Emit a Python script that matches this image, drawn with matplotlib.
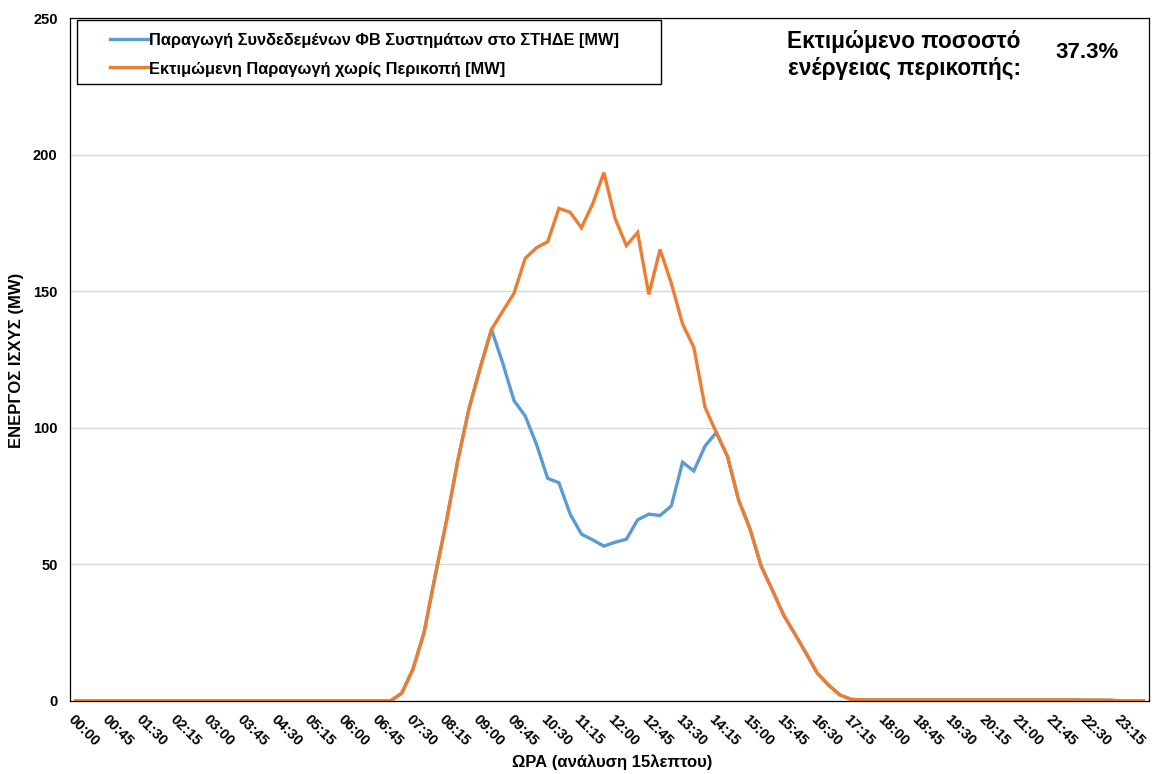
import matplotlib
matplotlib.use("Agg")
import matplotlib.pyplot as plt
from matplotlib.patches import Rectangle

plt.rcParams["font.family"] = ["Liberation Sans", "DejaVu Sans"]
plt.rcParams["font.weight"] = "bold"

# 15-minute slots, 00:00 .. 23:45
TIMES = [f"{h:02d}:{m:02d}" for h in range(24) for m in (0, 15, 30, 45)]

# estimated production without curtailment [MW]
ESTIMATED = (
    [0.0] * 29
    + [2.8, 11.5, 25.0, 46.0, 66.0, 88.0, 107.0, 122.0, 136.0,
       142.7, 149.2, 162.0, 165.9, 168.1, 180.3, 178.9, 173.2, 181.9, 193.4,
       176.6, 166.7, 171.5, 148.8, 165.3, 152.9, 138.0, 129.5, 107.5, 98.3,
       89.5, 73.4, 63.0, 49.3, 40.5, 31.4, 24.5, 17.4, 10.1, 5.8, 2.2, 0.6]
    + [0.4] * 20
    + [0.3, 0.3, 0.3, 0.0, 0.0, 0.0]
)

# actual production of connected PV systems [MW]
ACTUAL = (
    [0.0] * 29
    + [2.8, 11.5, 25.0, 46.0, 66.0, 88.0, 107.0, 122.0, 136.0,
       123.7, 110.0, 104.3, 94.0, 81.5, 79.9, 68.4, 61.1, 59.0, 56.7,
       58.1, 59.2, 66.3, 68.4, 67.9, 71.4, 87.4, 84.2, 93.3, 98.3,
       89.5, 73.4, 63.0, 49.3, 40.5, 31.4, 24.5, 17.4, 10.1, 5.8, 2.2, 0.6]
    + [0.4] * 20
    + [0.3, 0.3, 0.3, 0.0, 0.0, 0.0]
)

LABEL_ACTUAL = "Παραγωγή Συνδεδεμένων ΦΒ Συστημάτων στο ΣΤΗΔΕ [MW]"
LABEL_ESTIMATED = "Εκτιμώμενη Παραγωγή χωρίς Περικοπή [MW]"
CURTAIL_PCT = "37.3%"

BLUE = "#5B9BD5"
ORANGE = "#ED7D31"

W, H = 1152, 774
fig = plt.figure(figsize=(W / 100, H / 100), dpi=100)
ax = fig.add_axes([70 / W, 1 - 701 / H, 1079 / W, 683 / H])

x = list(range(len(TIMES)))
ax.plot(x, ACTUAL, color=BLUE, lw=2.4, label=LABEL_ACTUAL, solid_joinstyle="miter")
ax.plot(x, ESTIMATED, color=ORANGE, lw=2.4, label=LABEL_ESTIMATED, solid_joinstyle="miter")

ax.set_xlim(-0.5, 95.5)
ax.set_ylim(0, 250)
ax.set_yticks([0, 50, 100, 150, 200, 250])
ax.grid(axis="y", color="#d9d9d9", lw=1)
ax.set_axisbelow(True)

ticks = x[::3]
ax.set_xticks(ticks)
ax.set_xticklabels([TIMES[i] for i in ticks], rotation=-45, ha="left", va="top",
                   rotation_mode="anchor", fontsize=10.5, fontweight="bold")
ax.tick_params(axis="x", length=0, pad=8)
ax.tick_params(axis="y", length=0, pad=9, labelsize=10.5)
for s in ax.spines.values():
    s.set_color("black")
    s.set_linewidth(0.9)

fig.text(17 / W, 1 - 360 / H, "ΕΝΕΡΓΟΣ ΙΣΧΥΣ (MW)", rotation=90, ha="center",
         va="center", fontsize=12, fontweight="bold")
fig.text(612 / W, 1 - 762 / H, "ΩΡΑ (ανάλυση 15λεπτου)", ha="center", va="center",
         fontsize=12, fontweight="bold")

# legend box
fig.patches.append(Rectangle((77 / W, 1 - 84 / H), (661 - 77) / W, 64 / H,
                             transform=fig.transFigure, fill=False,
                             edgecolor="black", lw=1.0, zorder=5))
fig.legend(loc="upper left", bbox_to_anchor=(97 / W, 1 - 20 / H), frameon=False,
           prop={"size": 11.8, "weight": "bold"}, handlelength=2.3,
           handletextpad=0.1, labelspacing=0.8, borderpad=0.3)

fig.text(904 / W, 1 - 55 / H, "Εκτιμώμενο ποσοστό\nενέργειας περικοπής:",
         ha="center", va="center", fontsize=16.3, fontweight="bold", linespacing=1.25)
fig.text(1087 / W, 1 - 53 / H, CURTAIL_PCT, ha="center", va="center",
         fontsize=16, fontweight="bold")

fig.savefig("out.png", dpi=100)
